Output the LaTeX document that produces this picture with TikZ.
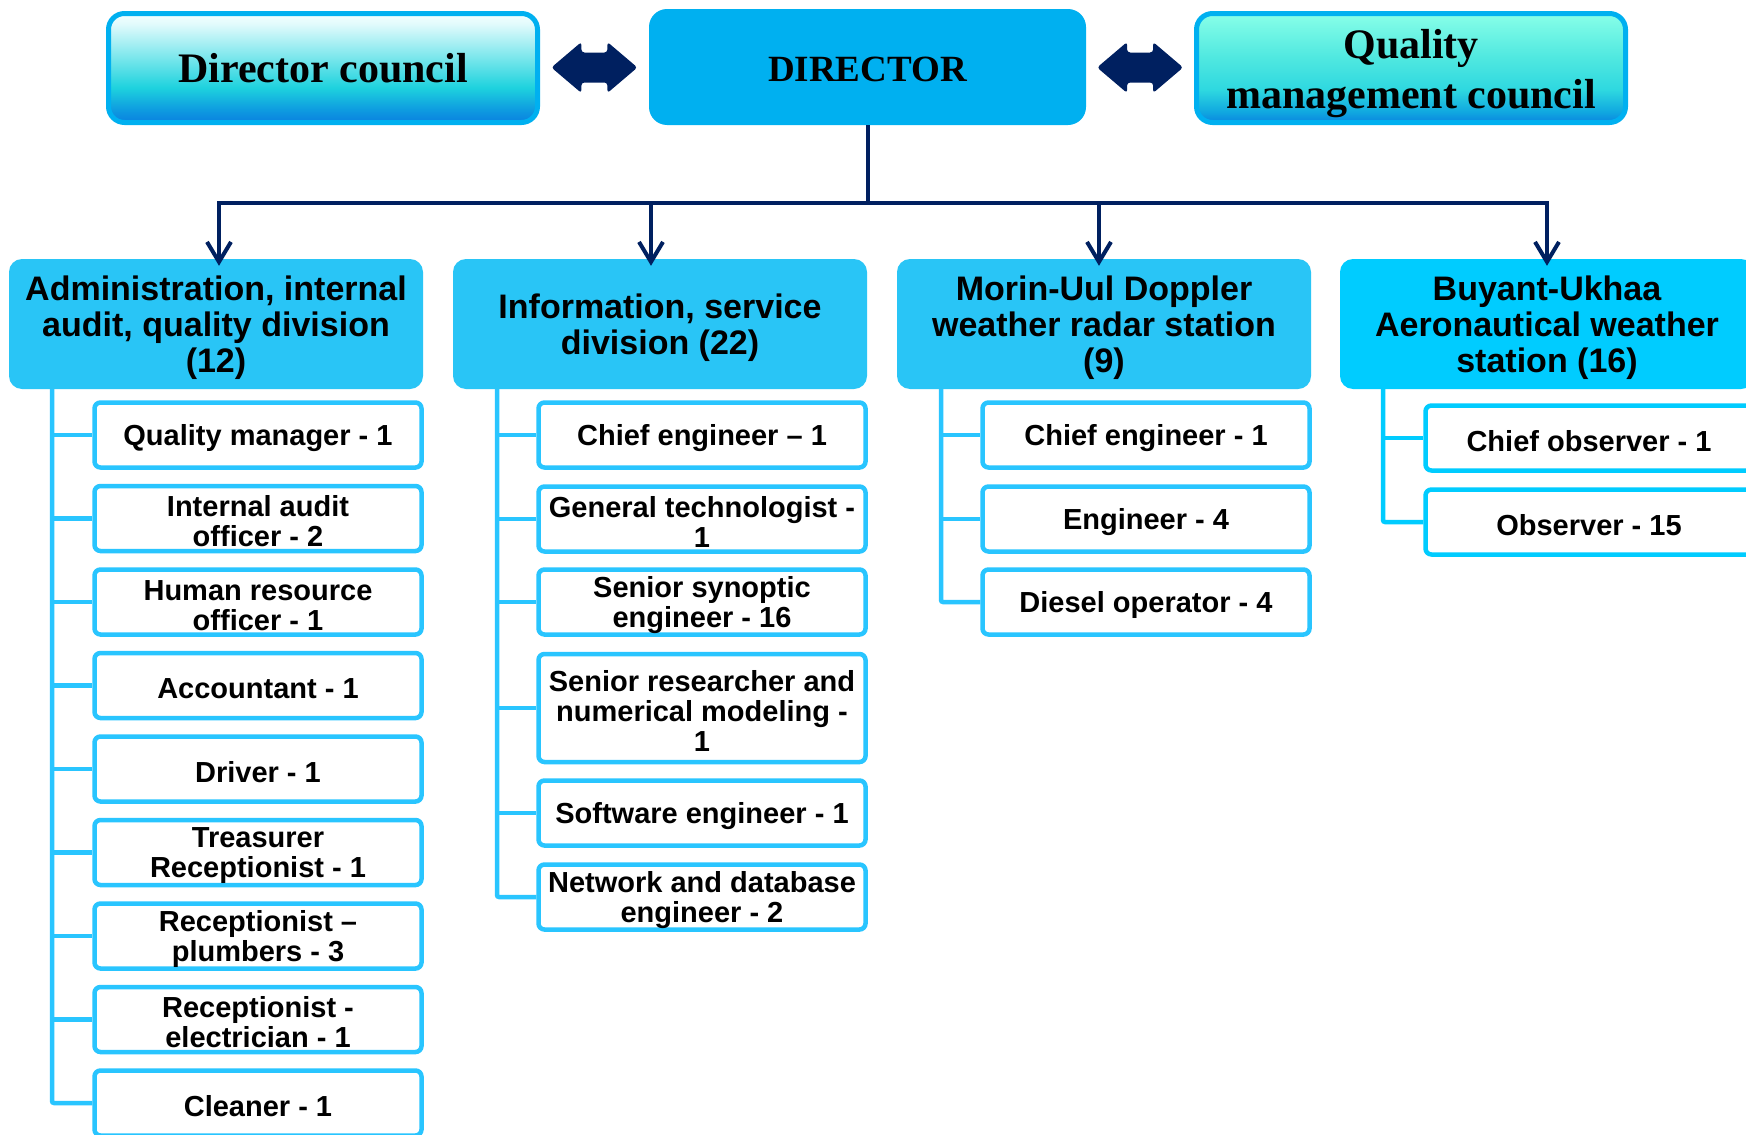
\documentclass[tikz,border=0pt]{standalone}
\usepackage{fontspec}
\setmainfont{Liberation Serif}
\newfontfamily\arialf{Liberation Sans}
\usetikzlibrary{arrows.meta,calc}
\definecolor{navyc}{HTML}{002060}
\definecolor{dirblue}{HTML}{00B0F0}
\definecolor{divblue}{HTML}{29C5F6}
\definecolor{divbluefour}{HTML}{00CCFF}
\definecolor{subline}{HTML}{29C5FF}
\definecolor{dca}{HTML}{0A80E0}
\definecolor{dcb}{HTML}{0E9CE0}
\definecolor{dcc}{HTML}{1ED2DE}
\definecolor{dcd}{HTML}{6EE4EA}
\definecolor{dce}{HTML}{E0FAFC}
\definecolor{dcf}{HTML}{F5FFFF}
\definecolor{qca}{HTML}{0A86E0}
\definecolor{qcb}{HTML}{10A8E0}
\definecolor{qcc}{HTML}{2ED8E0}
\definecolor{qcd}{HTML}{50E8E0}
\definecolor{qce}{HTML}{88FFE8}
\pgfdeclareverticalshading{dcshade}{100bp}{color(0bp)=(dca); color(25bp)=(dca); color(31bp)=(dcb); color(41bp)=(dcc); color(53bp)=(dcd); color(70bp)=(dce); color(75bp)=(dcf); color(100bp)=(dcf)}
\pgfdeclareverticalshading{qcshade}{100bp}{color(0bp)=(qca); color(25bp)=(qca); color(30bp)=(qcb); color(40bp)=(qcc); color(55bp)=(qcd); color(75bp)=(qce); color(100bp)=(qce)}
\newcommand{\lift}[1]{\rule{0pt}{#1}}
\tikzset{
  council/.style={draw=dirblue, line width=5pt, rounded corners=16pt, inner sep=0pt,
    minimum width=429pt, minimum height=109pt, align=center,
    font=\bfseries\fontsize{42}{50}\selectfont},
  dirbox/.style={fill=dirblue, rounded corners=18pt, inner sep=0pt,
    minimum width=437pt, minimum height=116pt, align=center,
    font=\bfseries\fontsize{37}{44}\selectfont},
  divbox/.style={fill=divblue, rounded corners=13pt, inner sep=0pt,
    minimum width=414pt, minimum height=130pt, align=center,
    font=\arialf\bfseries\fontsize{34}{36}\selectfont},
  subbox/.style={draw=subline, fill=white, line width=4.5pt, rounded corners=6pt, inner sep=0pt,
    minimum width=327pt, minimum height=65pt, align=center,
    font=\arialf\bfseries\fontsize{29}{30}\selectfont},
  subl/.style={draw=subline, line width=4.5pt},
  navyl/.style={draw=navyc, line width=4pt},
  navyarr/.style={navyl, -{Straight Barb[length=20pt,width=24pt,line width=4pt]}},
  dblarrow/.style={fill=navyc, rounded corners=3pt}
}
\begin{document}
\begin{tikzpicture}[x=1pt,y=-1pt]
\useasboundingbox (0,0) rectangle (1746,1135);
\clip (0,0) rectangle (1746,1135);
\fill[white] (0,0) rectangle (1746,1135);

% top row
\node[council, shading=dcshade] (dc) at (323,68) {Director council};
\node[dirbox] (dir) at (867.5,67) {\lift{29pt}DIRECTOR};
\node[council, shading=qcshade] (qc) at (1411,68) {\lift{40pt}Quality\\management council};

% double arrows
\coordinate (a1) at ($(dc.east)!0.5!(dir.west)$);
\coordinate (a2) at ($(dir.east)!0.5!(qc.west)$);
\foreach \c in {a1,a2}{
  \fill[dblarrow] ($(\c)+(-43,0)$) -- ($(\c)+(-13,-25.5)$) -- ($(\c)+(-13,-15)$) -- ($(\c)+(13,-15)$)
    -- ($(\c)+(13,-25.5)$) -- ($(\c)+(43,0)$) -- ($(\c)+(13,25.5)$) -- ($(\c)+(13,15)$)
    -- ($(\c)+(-13,15)$) -- ($(\c)+(-13,25.5)$) -- cycle;
}

% divisions
\node[divbox] (d1) at (216,324) {\lift{32pt}Administration, internal\\audit, quality division\\(12)};
\node[divbox] (d2) at (660,324) {\lift{32pt}Information, service\\division (22)};
\node[divbox] (d3) at (1104,324) {\lift{32pt}Morin-Uul Doppler\\weather radar station\\(9)};
\node[divbox, fill=divbluefour] (d4) at (1547,324) {\lift{32pt}Buyant-Ukhaa\\Aeronautical weather\\station (16)};

% bus
\coordinate (b1) at (219,203);
\coordinate (b2) at (651,203);
\coordinate (b3) at (1099,203);
\coordinate (b4) at (1547,203);
\draw[navyl] (dir.south) -- (dir.south |- b1);
\draw[navyl, line cap=rect] (b1) -- (b4);
\draw[navyarr] (b1) -- ($(b1 |- d1.north)+(0,7)$);
\draw[navyarr] (b2) -- ($(b2 |- d2.north)+(0,7)$);
\draw[navyarr] (b3) -- ($(b3 |- d3.north)+(0,7)$);
\draw[navyarr] (b4) -- ($(b4 |- d4.north)+(0,7)$);

% column 1
\node[subbox] (s11) at (258,435) {\lift{26.5pt}Quality manager - 1};
\node[subbox] (s12) at (258,518.5) {\lift{26.5pt}Internal audit\\officer - 2};
\node[subbox] (s13) at (258,602) {\lift{26.5pt}Human resource\\officer - 1};
\node[subbox] (s14) at (258,685.5) {\lift{26.5pt}Accountant - 1};
\node[subbox] (s15) at (258,769) {\lift{26.5pt}Driver - 1};
\node[subbox] (s16) at (258,852.5) {\lift{26.5pt}Treasurer\\Receptionist - 1};
\node[subbox] (s17) at (258,936) {\lift{26.5pt}Receptionist –\\plumbers - 3};
\node[subbox] (s18) at (258,1019.5) {\lift{26.5pt}Receptionist -\\electrician - 1};
\node[subbox] (s19) at (258,1103) {\lift{26.5pt}Cleaner - 1};
\coordinate (v1) at (52,0);
\draw[subl, rounded corners=2pt] (v1 |- d1.south) -- (v1 |- s19.west) -- (s19.west);
\foreach \k in {1,...,8}{ \draw[subl] (v1 |- s1\k.west) -- (s1\k.west); }

% column 2
\node[subbox] (s21) at (702,435) {\lift{26.5pt}Chief engineer – 1};
\node[subbox] (s22) at (702,519) {\lift{26.5pt}General technologist -\\1};
\node[subbox] (s23) at (702,602) {\lift{26.5pt}Senior synoptic\\engineer - 16};
\node[subbox, minimum height=108pt] (s24) at (702,708) {\lift{26.5pt}Senior researcher and\\numerical modeling -\\1};
\node[subbox] (s25) at (702,813) {\lift{26.5pt}Software engineer - 1};
\node[subbox] (s26) at (702,897) {\lift{26.5pt}Network and database\\engineer - 2};
\coordinate (v2) at (497,0);
\draw[subl, rounded corners=2pt] (v2 |- d2.south) -- (v2 |- s26.west) -- (s26.west);
\foreach \k in {1,...,5}{ \draw[subl] (v2 |- s2\k.west) -- (s2\k.west); }

% column 3
\node[subbox] (s31) at (1146,435) {\lift{26.5pt}Chief engineer - 1};
\node[subbox] (s32) at (1146,519) {\lift{26.5pt}Engineer - 4};
\node[subbox] (s33) at (1146,602) {\lift{26.5pt}Diesel operator - 4};
\coordinate (v3) at (941,0);
\draw[subl, rounded corners=2pt] (v3 |- d3.south) -- (v3 |- s33.west) -- (s33.west);
\foreach \k in {1,2}{ \draw[subl] (v3 |- s3\k.west) -- (s3\k.west); }

% column 4
\node[subbox, draw=divbluefour] (s41) at (1589,438) {\lift{26.5pt}Chief observer - 1};
\node[subbox, draw=divbluefour] (s42) at (1589,522) {\lift{26.5pt}Observer - 15};
\coordinate (v4) at (1383,0);
\draw[subl, draw=divbluefour, rounded corners=2pt] (v4 |- d4.south) -- (v4 |- s42.west) -- (s42.west);
\draw[subl, draw=divbluefour] (v4 |- s41.west) -- (s41.west);
\end{tikzpicture}
\end{document}
